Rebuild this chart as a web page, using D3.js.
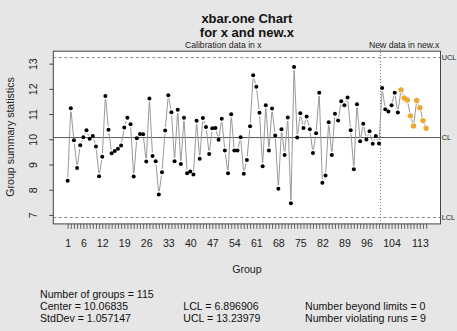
<!DOCTYPE html>
<html><head><meta charset="utf-8">
<script src="https://cdn.jsdelivr.net/npm/d3@7"></script>
<style>
body{margin:0;background:#E6E6E6;}
svg{display:block;font-family:"Liberation Sans",Arial,Helvetica,sans-serif;}
</style>
</head><body><svg id="c" width="457" height="331"></svg>
<script>
// ---- data ----
const calibration = [
  8.35, 11.23, 9.96, 8.86, 9.76, 10.08, 10.36, 10.02, 10.13, 9.71,
  8.53, 9.31, 11.72, 10.38, 9.45, 9.53, 9.62, 9.75, 10.47, 10.85,
  10.60, 8.52, 10.04, 10.21, 10.20, 9.12, 11.62, 9.34, 9.13, 7.81,
  8.69, 10.35, 11.75, 11.07, 9.13, 11.17, 9.02, 10.85, 8.65, 8.72,
  8.60, 10.73, 9.23, 10.84, 10.49, 9.42, 10.44, 10.45, 9.98, 10.81,
  9.55, 8.65, 10.99, 9.55, 9.55, 10.08, 8.63, 9.18, 10.52, 12.54,
  12.08, 11.05, 8.93, 11.35, 9.55, 11.22, 10.15, 8.04, 10.40, 9.38,
  10.86, 7.46, 12.87, 10.07, 11.03, 10.45, 10.90, 10.40, 9.46, 10.24,
  11.85, 8.28, 8.56, 10.68, 9.38, 11.01, 10.74, 11.51, 11.35, 11.66,
  10.36, 8.81, 11.39, 9.92, 10.62, 9.99, 10.32, 9.82, 10.13, 9.83
];
const newData = [12.03, 11.19, 11.10, 11.35, 11.85, 11.06, 11.96, 11.64, 11.56, 10.93, 10.53, 11.54, 11.25, 10.74, 10.44];
const centerValue = 10.06835;
const lclValue = 6.896906;
const uclValue = 13.23979;
const stdDevValue = 1.057147;
const runLength = 7;
const yTickValues = [7, 8, 9, 10, 11, 12, 13];
const xTickLabels = [1, 6, 12, 19, 26, 33, 40, 47, 54, 61, 68, 75, 82, 89, 96, 104, 113];
const limitLabels = ["UCL", "CL", "LCL"];

// ---- derived ----
const values = calibration.concat(newData);
const n = values.length;
const nCal = calibration.length;
const pts = values.map((v, i) => ({ g: i + 1, v: v }));
// run rule: points after runLength consecutive on same side of center
let run = 0, side = 0;
pts.forEach(p => {
  const s = p.v > centerValue ? 1 : (p.v < centerValue ? -1 : 0);
  if (s !== 0 && s === side) run++; else { run = s === 0 ? 0 : 1; side = s; }
  p.violate = run >= runLength;
});

const svg = d3.select("#c");
const L = 53.3, R = 440.5, T = 51.2, B = 223.9;
const xExt = 0.04 * (n - 1);
const x = d3.scaleLinear().domain([1 - xExt, n + xExt]).range([L, R]);
const lo = Math.min(d3.min(values), lclValue), hi = Math.max(d3.max(values), uclValue);
const yExt = 0.04 * (hi - lo);
const y = d3.scaleLinear().domain([lo - yExt, hi + yExt]).range([B, T]);

// plot background
svg.append("rect").attr("x", L).attr("y", T).attr("width", R - L).attr("height", B - T).attr("fill", "#fff");

// limits
svg.append("line").attr("x1", L).attr("x2", R).attr("y1", y(uclValue)).attr("y2", y(uclValue))
  .attr("stroke", "#888").attr("stroke-dasharray", "3,2.5");
svg.append("line").attr("x1", L).attr("x2", R).attr("y1", y(lclValue)).attr("y2", y(lclValue))
  .attr("stroke", "#888").attr("stroke-dasharray", "3,2.5");
svg.append("line").attr("x1", L).attr("x2", R).attr("y1", y(centerValue)).attr("y2", y(centerValue))
  .attr("stroke", "#555").attr("stroke-width", 1);

// separator
svg.append("line").attr("x1", x(nCal + 0.5)).attr("x2", x(nCal + 0.5)).attr("y1", 43).attr("y2", B)
  .attr("stroke", "#777").attr("stroke-dasharray", "1,2");

// connecting segments with gaps (type "b")
const gap = 3.4;
const segs = [];
for (let i = 0; i < n - 1; i++) {
  const x1 = x(pts[i].g), y1 = y(pts[i].v), x2 = x(pts[i + 1].g), y2 = y(pts[i + 1].v);
  const len = Math.hypot(x2 - x1, y2 - y1);
  if (len > 2 * gap + 0.5) {
    const ux = (x2 - x1) / len, uy = (y2 - y1) / len;
    segs.push([x1 + ux * gap, y1 + uy * gap, x2 - ux * gap, y2 - uy * gap]);
  }
}
svg.append("g").selectAll("line").data(segs).join("line")
  .attr("x1", d => d[0]).attr("y1", d => d[1]).attr("x2", d => d[2]).attr("y2", d => d[3])
  .attr("stroke", "#999").attr("stroke-width", 1);

// points
svg.append("g").selectAll("circle").data(pts).join("circle")
  .attr("cx", d => x(d.g)).attr("cy", d => y(d.v))
  .attr("r", d => d.violate ? 2.7 : 2.0)
  .attr("fill", d => d.violate ? "#EDA92F" : "#000");

// box
svg.append("rect").attr("x", L).attr("y", T).attr("width", R - L).attr("height", B - T)
  .attr("fill", "none").attr("stroke", "#444").attr("stroke-width", 1);

// y axis
const yAxis = svg.append("g").attr("transform", `translate(${L},0)`)
  .call(d3.axisLeft(y).tickValues(yTickValues).tickSize(4).tickFormat(d3.format("d")));
yAxis.select(".domain").remove();
yAxis.selectAll("line").attr("stroke", "#444");
yAxis.selectAll("text").attr("transform", "rotate(-90)").attr("x", 0).attr("y", -20.3)
  .attr("dy", "0.35em").attr("text-anchor", "middle").attr("fill", "#222")
  .style("font-size", "10.6px").style("font-family", "Liberation Sans, Arial, sans-serif");

// x axis
const xAxis = svg.append("g").attr("transform", `translate(0,${B})`)
  .call(d3.axisBottom(x).tickValues(d3.range(1, n + 1)).tickSize(5)
    .tickFormat(d => xTickLabels.includes(d) ? String(d) : ""));
xAxis.select(".domain").remove();
xAxis.selectAll("line").attr("stroke", "#444").attr("stroke-width", 0.8);
xAxis.selectAll("text").attr("y", 16).attr("fill", "#222")
  .style("font-size", "10.6px").style("font-family", "Liberation Sans, Arial, sans-serif");

// right labels (sized so they fit inside the 457px window)
[uclValue, centerValue, lclValue].forEach((v, i) => {
  svg.append("text").attr("x", 441.8).attr("y", y(v)).attr("dy", "0.35em")
    .attr("font-size", 7.3).attr("fill", "#222").text(limitLabels[i]);
});

// titles
svg.append("text").attr("x", (L + R) / 2).attr("y", 22.7).attr("text-anchor", "middle")
  .attr("font-size", 13).attr("font-weight", "bold").attr("fill", "#111").text("xbar.one Chart");
svg.append("text").attr("x", (L + R) / 2).attr("y", 36.7).attr("text-anchor", "middle")
  .attr("font-size", 13).attr("font-weight", "bold").attr("fill", "#111").text("for x and new.x");
svg.append("text").attr("x", x((1 + nCal) / 2)).attr("y", 47.7).attr("text-anchor", "middle")
  .attr("font-size", 8.7).attr("fill", "#222").text("Calibration data in x");
svg.append("text").attr("x", x((nCal + 1 + n) / 2)).attr("y", 47.7).attr("text-anchor", "middle")
  .attr("font-size", 8.7).attr("fill", "#222").text("New data in new.x");

// axis titles
svg.append("text").attr("x", (L + R) / 2).attr("y", 273.3).attr("text-anchor", "middle")
  .attr("font-size", 10.6).attr("fill", "#222").text("Group");
svg.append("text").attr("transform", "translate(10,137) rotate(-90)").attr("dy", "0.35em")
  .attr("text-anchor", "middle").attr("font-size", 10.6).attr("fill", "#222").text("Group summary statistics");

// stats block
const stats = [
  [40, 298.3, `Number of groups = ${n}`],
  [40, 310.3, `Center = ${centerValue}`],
  [40, 321.7, `StdDev = ${stdDevValue}`],
  [183.3, 310.3, `LCL = ${lclValue}`],
  [183.3, 321.7, `UCL = ${uclValue}`],
  [305, 310.3, `Number beyond limits = ${values.filter(v => v > uclValue || v < lclValue).length}`],
  [305, 321.7, `Number violating runs = ${pts.filter(p => p.violate).length}`]
];
svg.append("g").selectAll("text").data(stats).join("text")
  .attr("x", d => d[0]).attr("y", d => d[1]).attr("font-size", 10.6).attr("fill", "#111")
  .text(d => d[2]);
</script>
</body></html>
